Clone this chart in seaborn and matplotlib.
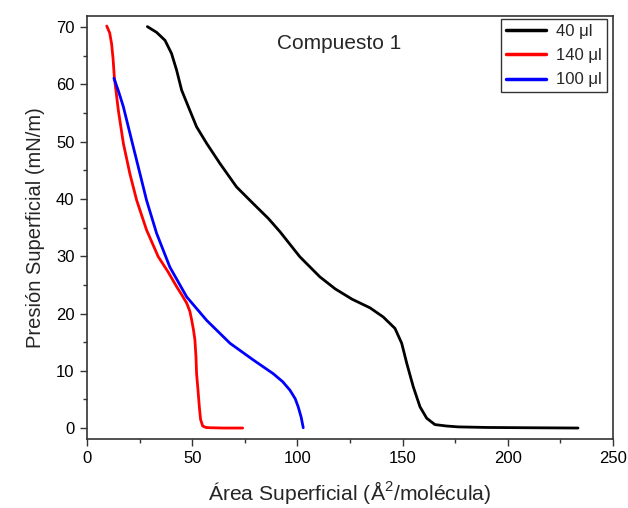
import numpy as np
import pandas as pd
import matplotlib
matplotlib.use("Agg")
import matplotlib.pyplot as plt
import seaborn as sns

# Isotherm readings: area per molecule (Å²) vs surface pressure (mN/m)
area_40 = [28.7, 33.1, 37.1, 40.2, 42.6, 45.0, 48.2, 52.1, 56.9, 63.2, 71.1, 79.0,
           86.2, 91.7, 101.2, 110.7, 118.0, 126.0, 134.5, 140.8, 146.4, 149.6, 152.0,
           155.1, 158.3, 161.5, 165.4, 171.0, 176.5, 190.0, 210.0, 233.4]
pres_40 = [70.1, 69.1, 67.7, 65.4, 62.5, 59.0, 56.1, 52.6, 49.7, 46.2, 42.1, 39.2,
           36.6, 34.3, 29.9, 26.4, 24.3, 22.5, 21.0, 19.4, 17.4, 14.8, 11.3,
           7.2, 3.7, 1.7, 0.6, 0.35, 0.2, 0.1, 0.05, 0.0]

area_140 = [9.4, 10.8, 11.7, 12.4, 13.0, 14.9, 17.3, 20.4, 23.6, 28.3, 33.9, 38.5,
            42.6, 45.5, 47.4, 48.9, 49.8, 50.6, 51.3, 51.8, 52.1, 52.8, 53.4,
            54.0, 55.0, 56.5, 58.5, 65.0, 74.0]
pres_140 = [70.2, 69.0, 67.1, 64.5, 61.3, 55.5, 49.7, 44.4, 39.8, 34.6, 29.9, 27.3,
            24.7, 23.0, 21.8, 20.4, 18.8, 17.2, 15.4, 12.5, 9.5, 6.5, 3.7,
            1.5, 0.35, 0.1, 0.05, 0.0, 0.0]

area_100 = [12.8, 15.0, 17.3, 21.2, 25.2, 28.3, 33.1, 39.4, 47.4, 56.9, 68.0, 79.0,
            88.5, 93.0, 96.5, 99.0, 100.4, 101.8, 102.8]
pres_100 = [61.1, 58.8, 56.1, 50.3, 44.4, 39.8, 34.0, 28.1, 22.9, 18.8, 14.8, 11.9,
            9.5, 8.1, 6.6, 5.1, 3.7, 1.9, 0.05]

labels = ["40 μl", "140 μl", "100 μl"]
colors = ["#000000", "#ff0000", "#0000ff"]

frames = []
for lab, a, p in zip(labels, [area_40, area_140, area_100], [pres_40, pres_140, pres_100]):
    frames.append(pd.DataFrame({"area": a, "pressure": p, "volume": lab}))
df = pd.concat(frames, ignore_index=True)

sns.set_style("ticks")
plt.rcParams["font.family"] = ["Liberation Sans", "DejaVu Sans"]
plt.rcParams["mathtext.fontset"] = "custom"
plt.rcParams["mathtext.rm"] = "Liberation Sans"

fig = plt.figure(figsize=(6.28, 5.08), dpi=100)
ax = fig.add_axes([0.1385, 0.136, 0.8375, 0.833])

sns.lineplot(data=df, x="area", y="pressure", hue="volume", hue_order=labels,
             palette=colors, sort=False, estimator=None, linewidth=2.0, ax=ax)

ax.set_xlim(0, 250)
ax.set_ylim(-1.9, 72.0)
ax.set_xticks([0, 50, 100, 150, 200, 250])
ax.set_yticks([0, 10, 20, 30, 40, 50, 60, 70])
ax.set_xticks(np.arange(25, 250, 50), minor=True)
ax.set_yticks(np.arange(5, 70, 10), minor=True)
ax.tick_params(which="major", direction="out", length=5, width=1, labelsize=12,
               pad=4, colors="#333333", labelcolor="black")
ax.tick_params(which="minor", direction="out", length=3, width=1, colors="#333333")
for s in ax.spines.values():
    s.set_color("#333333")
    s.set_linewidth(1.2)

ax.set_xlabel("Área Superficial (Å$^2$/molécula)", fontsize=15.2, labelpad=9)
ax.set_ylabel("Presión Superficial (mN/m)", fontsize=14.5, labelpad=8)

ax.text(0.479, 0.935, "Compuesto 1", transform=ax.transAxes, ha="center", va="center",
        fontsize=15)

leg = ax.legend(title=None, loc="upper right", bbox_to_anchor=(0.989, 0.992),
                fontsize=12, frameon=True, fancybox=False, handlelength=2.4,
                borderpad=0.3, labelspacing=0.55, handletextpad=0.65,
                borderaxespad=0.0)
leg.get_frame().set_edgecolor("black")
leg.get_frame().set_linewidth(1.0)
for line in leg.get_lines():
    line.set_linewidth(2.5)

fig.savefig("out.png", dpi=100)
